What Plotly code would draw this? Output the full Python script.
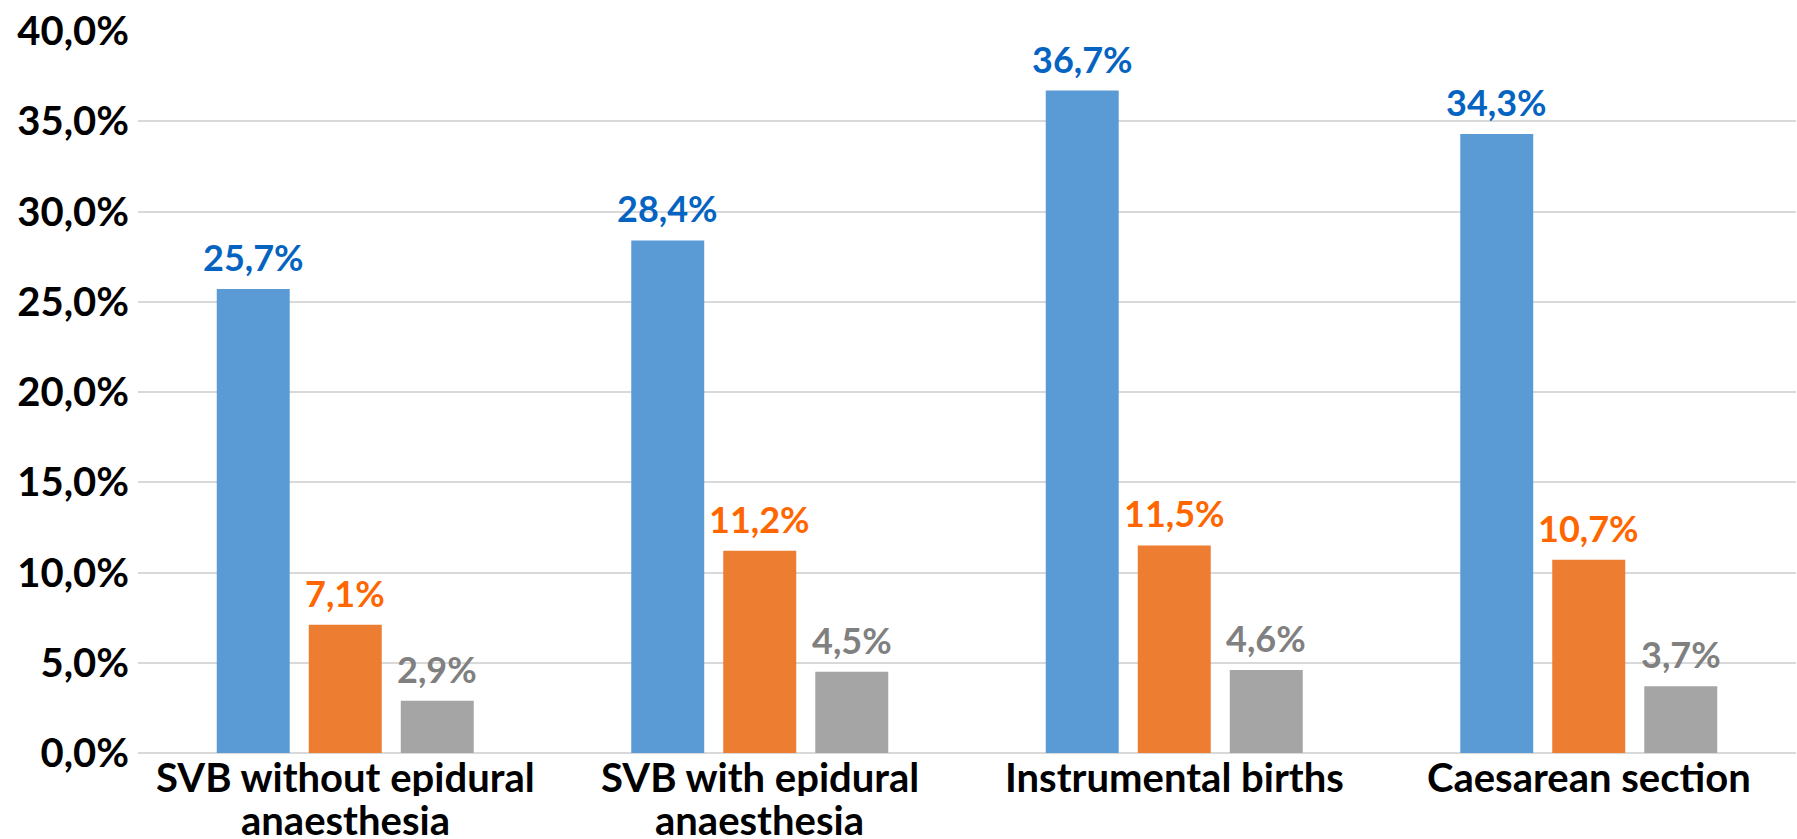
import plotly.graph_objects as go

# Data
categories = [
    "SVB without epidural<br>anaesthesia",
    "SVB with epidural<br>anaesthesia",
    "Instrumental births",
    "Caesarean section",
]
series_a = [25.7, 28.4, 36.7, 34.3]
series_b = [7.1, 11.2, 11.5, 10.7]
series_c = [2.9, 4.5, 4.6, 3.7]
y_tick_values = [0, 5, 10, 15, 20, 25, 30, 35, 40]
y_tick_labels = ["0,0%", "5,0%", "10,0%", "15,0%", "20,0%",
                 "25,0%", "30,0%", "35,0%", "40,0%"]

bar_colors = ["#5B9BD5", "#ED7D31", "#A5A5A5"]
label_colors = ["#0563C1", "#FF6600", "#808080"]
FONT = "Lato"

BARGAP = 0.334
BARGROUPGAP = 0.207

series = [series_a, series_b, series_c]
x_idx = list(range(len(categories)))

fig = go.Figure()
for vals, col in zip(series, bar_colors):
    fig.add_trace(go.Bar(
        x=x_idx, y=vals, marker=dict(color=col, line=dict(width=0)),
        hoverinfo="skip",
    ))

annotations = []
# value labels above each bar, centred on the bar within its group
n = len(series)
slot = (1 - BARGAP) / n
for k, (vals, col) in enumerate(zip(series, label_colors)):
    off = (k - (n - 1) / 2) * slot
    for i, v in enumerate(vals):
        annotations.append(dict(
            x=i + off, y=v, xref="x", yref="y",
            text=f"{v:.1f}".replace(".", ",") + "%",
            showarrow=False, yanchor="bottom", yshift=8,
            font=dict(family=FONT, size=36, color=col, weight=700),
        ))

# category labels below the axis, one compact annotation per line
for i, cat in enumerate(categories):
    for j, line in enumerate(cat.split("<br>")):
        annotations.append(dict(
            x=i, y=0, xref="x", yref="paper",
            text=line, showarrow=False, yanchor="top",
            height=38, valign="middle", borderpad=0,
            yshift=-4 - 43 * j,
            font=dict(family=FONT, size=40, color="#000000", weight=700),
        ))

fig.update_layout(
    width=1797, height=839,
    margin=dict(l=138, r=1, t=31, b=86),
    paper_bgcolor="white", plot_bgcolor="white",
    barmode="group", bargap=BARGAP, bargroupgap=BARGROUPGAP,
    showlegend=False,
    annotations=annotations,
    xaxis=dict(
        range=[-0.5, len(categories) - 0.5],
        showticklabels=False, showgrid=False, zeroline=False,
        showline=False, ticks="",
    ),
    yaxis=dict(
        range=[0, 40], tickmode="array",
        tickvals=y_tick_values, ticktext=y_tick_labels,
        showgrid=True, gridcolor="#D9D9D9", gridwidth=2,
        zeroline=True, zerolinecolor="#D9D9D9", zerolinewidth=2,
        showline=False, ticks="", ticklabelstandoff=8,
        tickfont=dict(family=FONT, size=40, color="#000000", weight=700),
    ),
)

fig.write_html("out.html")
